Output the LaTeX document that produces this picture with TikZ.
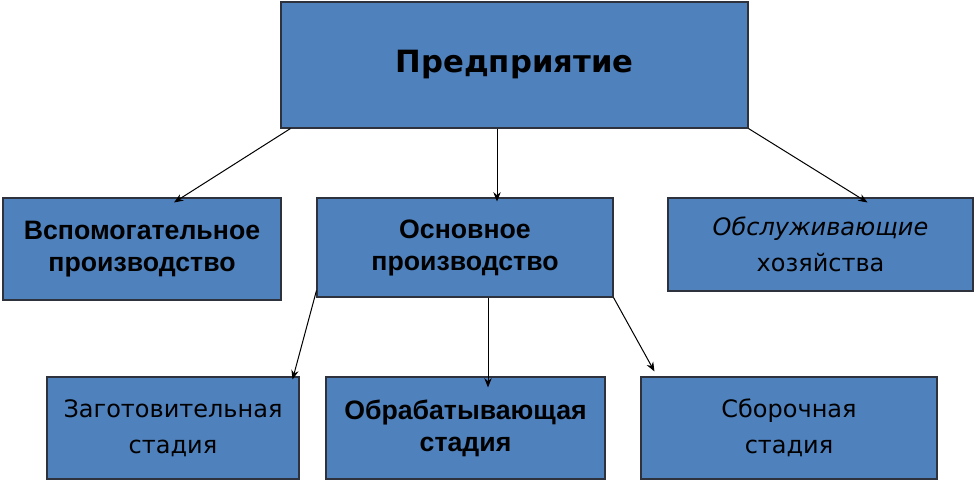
\documentclass[tikz,border=0pt]{standalone}
\usepackage{fontspec}
\usetikzlibrary{arrows.meta}
\setmainfont{Liberation Sans}
\newfontfamily\comic{DejaVu Sans}
\definecolor{boxblue}{RGB}{79,129,189}
\definecolor{boxline}{RGB}{45,50,60}

\begin{document}
\begin{tikzpicture}[x = 0.75pt, y = -0.75pt,
        unit/.style = {draw = boxline, fill = boxblue, line width = 0.8pt, rectangle, inner sep = 0pt, align = center, text = black},
        arial/.style = {font = \fontsize{20}{24}\selectfont\bfseries},
        hand/.style = {font = \fontsize{18}{27}\selectfont\comic},
        link/.style = {-{Stealth[length = 7pt, width = 5.5pt]}, line width = 0.75pt}]
        \useasboundingbox (0, 0) rectangle (975, 480);

        % Nodes
        \node [unit, minimum width = 350.25pt, minimum height = 94.5pt, font = \fontsize{23}{28}\selectfont\comic\bfseries] (firm) at (514.5, 65) {Предприятие};
        \node [unit, arial, minimum width = 208.5pt, minimum height = 76.5pt] (aux) at (142, 249) {Вспомогательное\\производство};
        \node [unit, arial, minimum width = 222pt, minimum height = 74.25pt] (main) at (465, 247.5) {Основное\\производство};
        \node [unit, hand, minimum width = 228.75pt, minimum height = 69.75pt] (serv) at (820.5, 244.5) {\itshape Обслуживающие\\хозяйства};
        \node [unit, hand, minimum width = 189pt, minimum height = 76.5pt] (prep) at (173, 428) {Заготовительная\\стадия};
        \node [unit, arial, minimum width = 209.25pt, minimum height = 76.5pt] (proc) at (465.5, 428) {Обрабатывающая\\стадия};
        \node [unit, hand, minimum width = 222pt, minimum height = 76.5pt] (asm) at (789, 428) {Сборочная\\стадия};

        % Edges Direction
        \draw [link] ([xshift = 7.5pt]firm.south west) -- ([xshift = 24pt, yshift = -3.75pt]aux.north);
        \draw [link] ([xshift = -13.125pt]firm.south) -- ([xshift = 24pt, yshift = -3pt]main.north);
        \draw [link] (firm.south east) -- ([xshift = 35.25pt, yshift = -3.75pt]serv.north);
        \draw [link] ([yshift = 5.25pt]main.south west) -- ([xshift = -5.25pt, yshift = -2.25pt]prep.north east);
        \draw [link] ([xshift = 17.25pt]main.south) -- ([xshift = 16.875pt, yshift = -8.25pt]proc.north);
        \draw [link] (main.south east) -- ([xshift = 10.5pt, yshift = 3.75pt]asm.north west);

    \end{tikzpicture}
\end{document}
